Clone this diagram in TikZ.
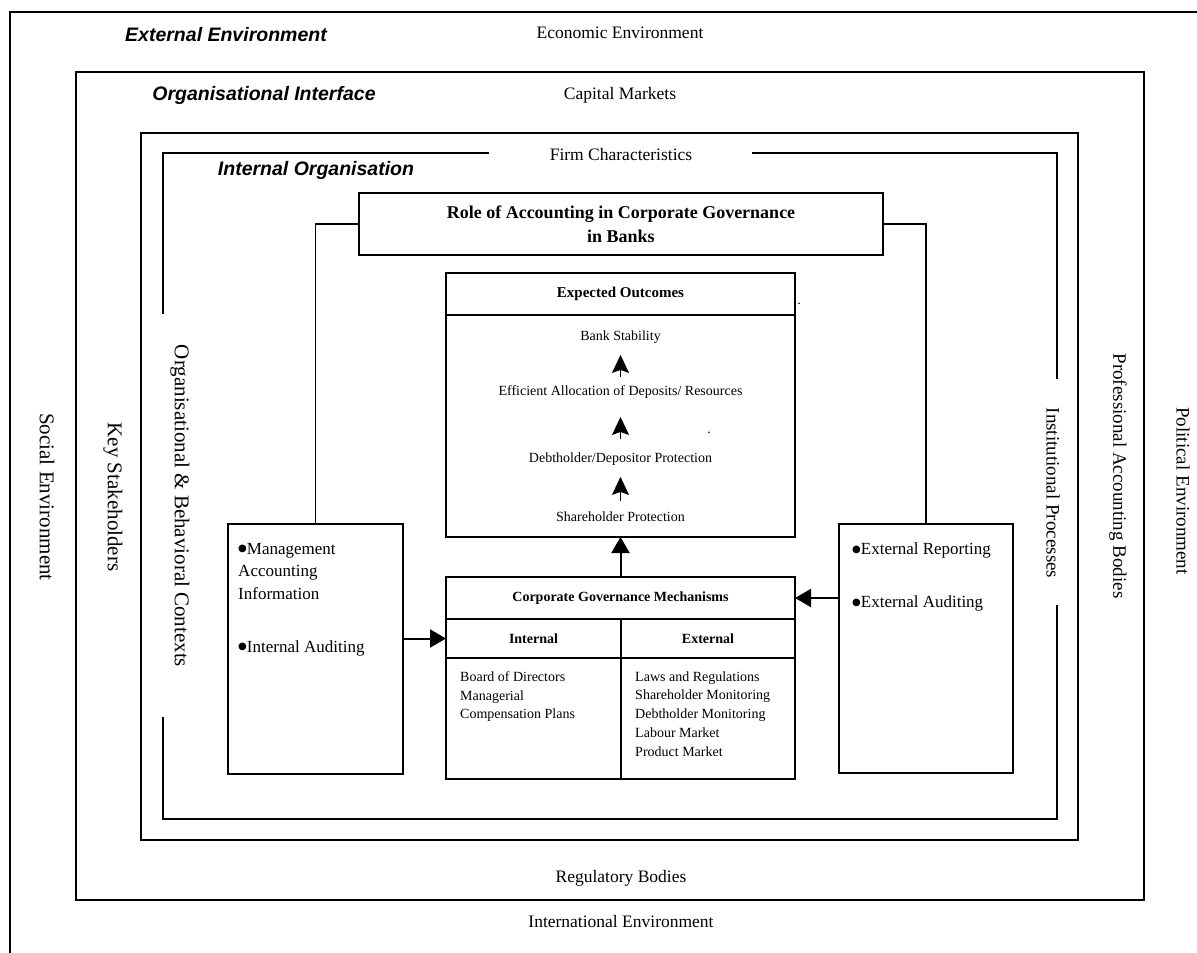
\documentclass[tikz,border=0pt]{standalone}
\usepackage{fontspec}
\setmainfont{Liberation Serif}
\newfontfamily\hvfont{Liberation Sans}
\newfontfamily\djvfont{DejaVu Sans}
\usetikzlibrary{arrows.meta}
\newcommand\fsz[2]{\fontsize{#1}{#2}\selectfont}
\newcommand\bulletmark{\raisebox{2.2pt}{\djvfont\fontsize{10}{10}\selectfont ●}}
\begin{document}
\begin{tikzpicture}[x=1pt,y=-1pt,
 frame/.style={line width=1.8pt},
 box/.style={draw, line width=1.8pt, inner sep=0pt, outer sep=0pt},
 hdr/.style={font=\hvfont\bfseries\itshape\fsz{19.5}{23}},
 lbl/.style={font=\fsz{17.5}{21}},
 sidel/.style={font=\fsz{21}{25}, rotate=-90},
 sider/.style={font=\fsz{19}{23}, rotate=-90},
 sm/.style={font=\fsz{14}{18.7}},
 smb/.style={font=\bfseries\fsz{14}{18}},
 boxtxt/.style={font=\fsz{17}{22.5}, anchor=north west, align=left},
 arr/.style={line width=2pt, -{Triangle[length=16pt,width=18pt]}},
 up/.style={line width=1.2pt, -{Stealth[length=18pt,width=17pt,inset=3pt]}}
]
\useasboundingbox (0,0) rectangle (1197,953);
% frames
\draw[frame] (1197,12) -- (10,12) -- (10,953);
\draw[frame] (76,72) rectangle (1144,900);
\draw[frame] (141,133) rectangle (1078,840);
\draw[frame] (489,153) -- (163,153) -- (163,314);
\draw[frame] (163,717) -- (163,819) -- (1057,819) -- (1057,605);
\draw[frame] (1057,379) -- (1057,153) -- (752,153);
% frame labels
\node[hdr] (ee) at (226,35) {External Environment};
\node[lbl] (econ) at (620,33) {Economic Environment};
\node[hdr] (oi) at (264,95) {Organisational Interface};
\node[lbl] (capm) at (620,95) {Capital Markets};
\node[lbl] (firm) at (621,155) {Firm Characteristics};
\node[hdr] (io) at (316,170) {Internal Organisation};
\node[lbl] (reg) at (621,878) {Regulatory Bodies};
\node[lbl] (intenv) at (621,922) {International Environment};
% side labels
\node[sidel] (soc) at (47,497) {Social Environment};
\node[sidel] (key) at (113,497) {Key Stakeholders};
\node[sidel] (obc) at (180,506) {Organisational \& Behavioral Contexts};
\node[sider] (inst) at (1053,493) {Institutional Processes};
\node[sider] (prof) at (1118,476) {Professional Accounting Bodies};
\node[sider] (pol) at (1183,491) {Political Environment};
% role box
\node[box, minimum width=524pt, minimum height=62pt, align=center, font=\bfseries\fsz{18}{24}] (role) at (621,224) {Role of Accounting in Corporate Governance\\in Banks};
% expected outcomes
\node[box, minimum width=349pt, minimum height=264pt] (eo) at (620.5,405) {};
\draw[frame] (446,315) -- (795,315);
\node[font=\bfseries\fsz{15}{18}] (eoh) at (620.5,294) {Expected Outcomes};
\node[sm] (bs) at (620.5,337) {Bank Stability};
\node[sm] (eff) at (620.5,392) {Efficient Allocation of Deposits/ Resources};
\node[sm] (deb) at (620.5,459) {Debtholder/Depositor Protection};
\node[sm] (sh) at (620.5,517) {Shareholder Protection};
\draw[up, shorten <=5pt, shorten >=8pt] (eff) -- (bs);
\draw[up, shorten <=10pt, shorten >=15pt] (deb) -- (eff);
\draw[up, shorten <=8pt, shorten >=8pt] (sh) -- (deb);
\node[sm] (dota) at (799,304) {.};
\node[sm] (dotb) at (709,433) {.};
% CGM
\node[box, minimum width=349pt, minimum height=202pt] (cgm) at (620.5,678) {};
\draw[frame] (446,619) -- (795,619);
\draw[frame] (446,658) -- (795,658);
\draw[frame] (621,619) -- (621,779);
\node[smb] (ncgm) at (620.5,598) {Corporate Governance Mechanisms};
\node[smb] (nint) at (533.5,638.5) {Internal};
\node[smb] (next) at (708,638.5) {External};
\node[sm, anchor=north west, align=left] (ilist) at (456.7,668) {Board of Directors\\Managerial\\Compensation Plans};
\node[sm, anchor=north west, align=left] (elist) at (631.7,668) {Laws and Regulations\\Shareholder Monitoring\\Debtholder Monitoring\\Labour Market\\Product Market};
% side boxes
\node[box, minimum width=175pt, minimum height=250pt] (mg) at (315.5,649) {};
\node[boxtxt] (mgt) at (234.7,539.5) {\bulletmark Management\\Accounting\\Information\\[30.5pt]\bulletmark Internal Auditing};
\node[box, minimum width=174pt, minimum height=249pt] (ext) at (926,648.5) {};
\node[boxtxt] (extt) at (848.7,539.5) {\bulletmark External Reporting\\[30.5pt]\bulletmark External Auditing};
% connectors
\draw[frame] (role.west) -| (mg.north);
\draw[frame] (role.east) -| (ext.north);
\draw[arr] (cgm.north) -- (eo.south);
\draw[arr] (mg.east |- nint) -- (cgm.west |- nint);
\draw[arr] (ext.west |- ncgm) -- (cgm.east |- ncgm);
\end{tikzpicture}
\end{document}
